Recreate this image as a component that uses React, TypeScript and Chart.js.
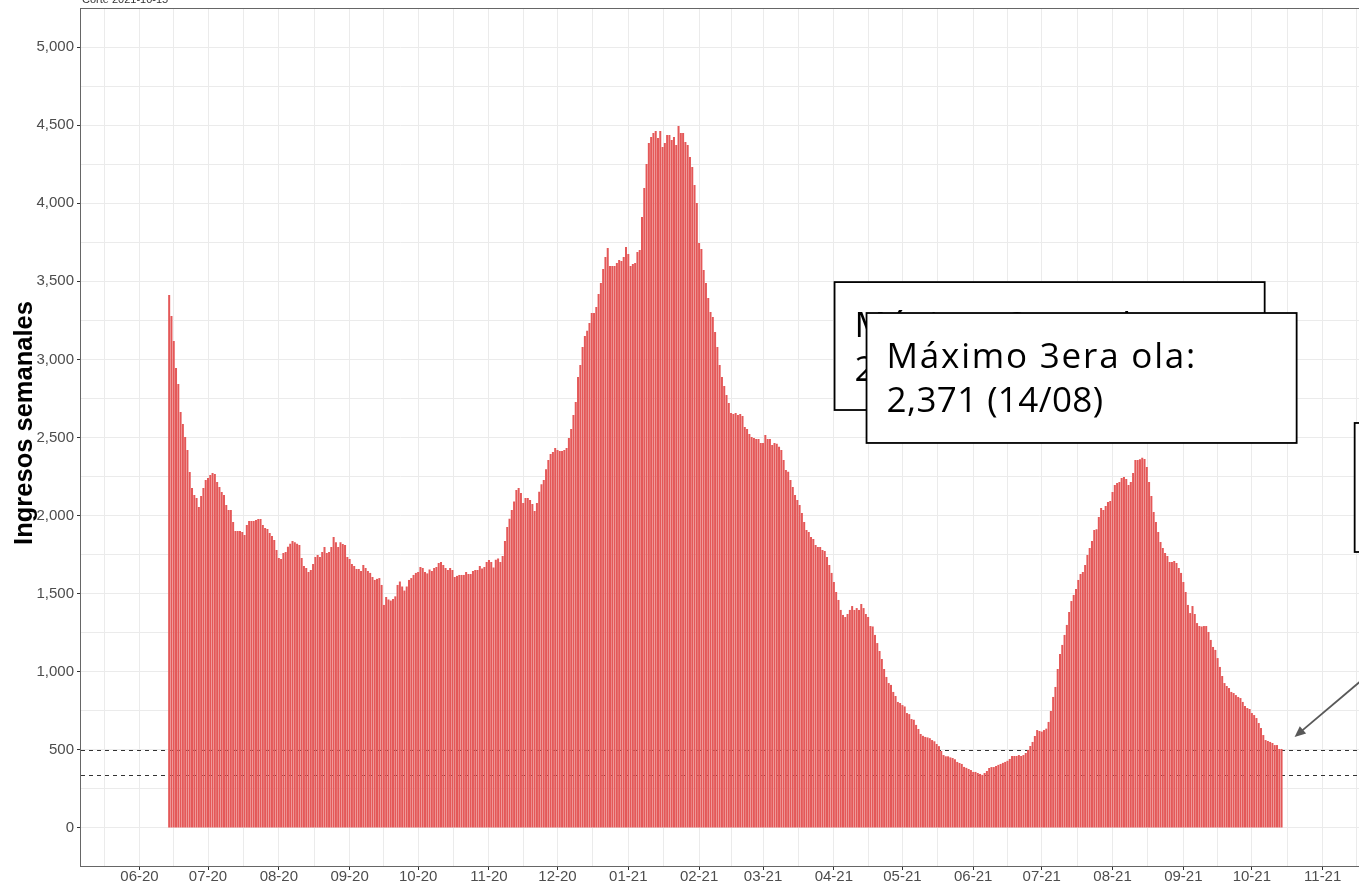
import React, { useEffect, useRef } from "react";
import { Chart, registerables } from "chart.js";

Chart.register(...registerables);

// ---------------- DATA ----------------
const FECHA_INICIO = "2020-06-14"; // first daily bar

// Ingresos semanales (rolling weekly admissions), one value per day
const ingresosJunSep2020 = [
  3412, 3278, 3118, 2945, 2843, 2663, 2586, 2503, 2420, 2279,
  2177, 2132, 2113, 2055, 2125, 2177, 2228, 2241, 2260, 2273,
  2266, 2215, 2183, 2151, 2132, 2068, 2036, 2036, 1959, 1901,
  1901, 1901, 1895, 1876, 1940, 1965, 1965, 1965, 1972, 1978,
  1978, 1940, 1920, 1914, 1888, 1870, 1844, 1780, 1729, 1722,
  1760, 1767, 1800, 1820, 1838, 1830, 1820, 1812, 1729, 1677,
  1665, 1639, 1652, 1690, 1735, 1747, 1735, 1767, 1799, 1760,
  1767, 1799, 1863, 1830, 1799, 1830, 1818, 1812, 1735, 1722,
  1690, 1677, 1658, 1658, 1645, 1684, 1665, 1645, 1633, 1607,
  1588, 1595,
];
const ingresosSepDic2020 = [
  1600, 1556, 1428, 1479, 1463, 1456, 1466, 1483, 1556, 1578,
  1546, 1520, 1546, 1588, 1600, 1620, 1633, 1639, 1671, 1665,
  1639, 1630, 1655, 1645, 1665, 1671, 1697, 1703, 1684, 1665,
  1652, 1665, 1652, 1607, 1614, 1620, 1620, 1620, 1639, 1626,
  1626, 1645, 1652, 1652, 1678, 1662, 1671, 1703, 1716, 1703,
  1668, 1718, 1725, 1703, 1741, 1837, 1927, 1980, 2036, 2090,
  2164, 2177, 2145, 2081, 2113, 2113, 2100, 2075, 2030, 2081,
  2152, 2200, 2228, 2296, 2356, 2394, 2407, 2433, 2420, 2413,
  2413, 2420, 2433, 2497, 2554, 2644, 2727,
];
const ingresosDicMar2021 = [
  2887, 2964, 3079, 3150, 3183, 3233, 3297, 3297, 3335, 3419,
  3489, 3579, 3656, 3713, 3598, 3598, 3598, 3617, 3636, 3630,
  3656, 3720, 3675, 3598, 3610, 3617, 3688, 3700, 3912, 4097,
  4251, 4385, 4424, 4450, 4462, 4417, 4462, 4360, 4385, 4436,
  4436, 4405, 4424, 4372, 4494, 4450, 4450, 4392, 4372, 4296,
  4232, 4117, 4001, 3745, 3707, 3572, 3489, 3393, 3303, 3271,
  3175, 3079, 2964, 2887, 2830, 2772, 2721, 2657, 2650, 2657,
  2644, 2650, 2637, 2567, 2554, 2522, 2503, 2497, 2490, 2490,
  2465, 2465, 2516, 2490, 2490, 2452,
];
const ingresosMarJun2021 = [
  2465, 2460, 2440, 2420, 2356, 2292, 2280, 2228, 2183, 2132,
  2100, 2068, 2017, 1959, 1908, 1895, 1863, 1850, 1812, 1799,
  1799, 1780, 1773, 1735, 1684, 1633, 1575, 1511, 1460, 1396,
  1364, 1351, 1370, 1396, 1421, 1396, 1408, 1396, 1434, 1408,
  1370, 1351, 1293, 1290, 1236, 1184, 1133, 1082, 1018, 967,
  928, 916, 871, 845, 807, 800, 787, 778, 736, 729,
  698, 693, 660, 634, 602, 590, 583, 580, 575, 563,
  555, 538, 524, 493, 467, 459, 459, 452, 448, 440,
  423, 416, 410, 391, 385, 378, 371, 359, 359, 352,
  346, 340, 352, 365, 384, 390, 390, 397, 404, 410,
  417, 423, 430, 442, 461, 461, 461, 467,
];
const ingresosJunOct2021 = [
  461, 467, 480, 499, 525, 551, 589, 627, 621, 617,
  627, 636, 679, 749, 839, 903, 1018, 1114, 1172, 1236,
  1300, 1383, 1453, 1492, 1530, 1588, 1626, 1639, 1684, 1748,
  1793, 1837, 1908, 1912, 1991, 2049, 2036, 2062, 2087, 2094,
  2151, 2196, 2209, 2215, 2241, 2247, 2234, 2196, 2215, 2273,
  2356, 2356, 2360, 2371, 2362, 2311, 2215, 2126, 2023, 1959,
  1895, 1831, 1793, 1761, 1741, 1703, 1703, 1709, 1697, 1665,
  1633, 1575, 1511, 1428, 1376, 1421, 1370, 1312, 1293, 1290,
  1293, 1293, 1255, 1204, 1159, 1140, 1088, 1031, 973, 928,
  909, 896, 871, 864, 851, 839, 832, 807, 781, 768,
  762, 736, 723, 704, 672, 640, 595, 563, 557, 551,
  544, 531, 531, 506, 506,
];

// x-axis month breaks and their labels
const mesesTicks = [
  "2020-06-01", "2020-07-01", "2020-08-01", "2020-09-01", "2020-10-01", "2020-11-01",
  "2020-12-01", "2021-01-01", "2021-02-01", "2021-03-01", "2021-04-01", "2021-05-01",
  "2021-06-01", "2021-07-01", "2021-08-01", "2021-09-01", "2021-10-01", "2021-11-01",
];
const mesesEtiquetas = [
  "06-20", "07-20", "08-20", "09-20", "10-20", "11-20",
  "12-20", "01-21", "02-21", "03-21", "04-21", "05-21",
  "06-21", "07-21", "08-21", "09-21", "10-21", "11-21",
];
const mesesBordes = ["2020-05-01", "2021-12-01"];

// y-axis breaks
const yTicksMayores = [0, 500, 1000, 1500, 2000, 2500, 3000, 3500, 4000, 4500, 5000];
const yTicksMenores = [250, 750, 1250, 1750, 2250, 2750, 3250, 3750, 4250, 4750];

// reference lines (current level and 3rd-wave trough)
const lineasReferencia = [500, 340];

const etiquetaMaximo = ["Máximo 3era ola:", "2,371 (14/08)"];
const tituloEjeY = "Ingresos semanales";
const textoCorte = "Corte 2021-10-15";

// ---------------- HELPERS ----------------
const toDay = (iso: string) => {
  const [y, m, d] = iso.split("-").map(Number);
  return Date.UTC(y, m - 1, d) / 86400000;
};

const DIA_BASE = toDay("2020-06-01");
const X_MIN = DIA_BASE - 25.6;
const X_MAX = DIA_BASE + 533.9;
const Y_MIN = -243.3;
const Y_MAX = 5249.7;

// annotation geometry in data units (day offset from 2020-06-01, value)
const caja1 = { x0: 304.3, x1: 492.6, y0: 3495, y1: 2676 };
const caja2 = { x0: 318.3, x1: 506.6, y0: 3297, y1: 2465 };
const caja3 = { x0: 532.0, x1: 620.0, y0: 2593, y1: 1767 };
const flecha = { x0: 542.9, y0: 1043, x1: 505.7, y1: 583 };

const ingresos = [
  ...ingresosJunSep2020,
  ...ingresosSepDic2020,
  ...ingresosDicMar2021,
  ...ingresosMarJun2021,
  ...ingresosJunOct2021,
];
const dia0 = toDay(FECHA_INICIO);
const puntos = ingresos.map((v, i) => ({ x: dia0 + i, y: v }));

const mayoresX = mesesTicks.map(toDay);
const etiquetaPorDia = new Map<number, string>();
mayoresX.forEach((d, i) => etiquetaPorDia.set(d, mesesEtiquetas[i]));
const todosMeses = [toDay(mesesBordes[0]), ...mayoresX, toDay(mesesBordes[1])];
const menoresX: number[] = [];
for (let i = 0; i < todosMeses.length - 1; i++) menoresX.push((todosMeses[i] + todosMeses[i + 1]) / 2);
const ticksX = [...mayoresX, ...menoresX]
  .filter((v) => v >= X_MIN && v <= X_MAX)
  .sort((a, b) => a - b);
const ticksY = [...yTicksMayores, ...yTicksMenores].sort((a, b) => a - b);
const mayoresYSet = new Set(yTicksMayores);

const FONT_EJES = '"Liberation Sans", Arial, Helvetica, sans-serif';
const FONT_ETIQUETA = '"Open Sans", "Noto Sans", sans-serif';

function dibujarCaja(ctx: CanvasRenderingContext2D, chart: any, c: any, texto: string[] | null) {
  const xs = chart.scales.x;
  const ys = chart.scales.y;
  const l = xs.getPixelForValue(DIA_BASE + c.x0);
  const r = xs.getPixelForValue(DIA_BASE + c.x1);
  const t = ys.getPixelForValue(c.y0);
  const b = ys.getPixelForValue(c.y1);
  ctx.save();
  ctx.fillStyle = "#ffffff";
  ctx.fillRect(l, t, r - l, b - t);
  ctx.strokeStyle = "#000000";
  ctx.lineWidth = 1.8;
  ctx.strokeRect(l, t, r - l, b - t);
  if (texto) {
    ctx.fillStyle = "#000000";
    ctx.font = `400 35px ${FONT_ETIQUETA}`;
    ctx.textAlign = "left";
    ctx.textBaseline = "alphabetic";
    (ctx as any).letterSpacing = "1.8px";
    ctx.fillText(texto[0], l + 20, t + 55);
    (ctx as any).letterSpacing = "0.4px";
    ctx.fillText(texto[1], l + 20, t + 99);
  }
  ctx.restore();
}

const decoracion = {
  id: "decoracion",
  beforeDatasetsDraw(chart: any) {
    const { ctx, chartArea, scales } = chart;
    ctx.save();
    ctx.strokeStyle = "#333333";
    ctx.lineWidth = 1;
    ctx.setLineDash([4, 4]);
    for (const v of lineasReferencia) {
      const py = Math.round(scales.y.getPixelForValue(v)) + 0.5;
      ctx.beginPath();
      ctx.moveTo(chartArea.left, py);
      ctx.lineTo(chartArea.right, py);
      ctx.stroke();
    }
    ctx.restore();
  },
  afterDatasetsDraw(chart: any) {
    const { ctx, chartArea, scales } = chart;
    // panel border
    ctx.save();
    ctx.strokeStyle = "#666666";
    ctx.lineWidth = 1;
    ctx.strokeRect(chartArea.left - 0.5, chartArea.top + 0.5, chartArea.right - chartArea.left + 10, chartArea.bottom - chartArea.top);
    ctx.restore();

    dibujarCaja(ctx, chart, caja1, etiquetaMaximo);
    dibujarCaja(ctx, chart, caja2, etiquetaMaximo);
    dibujarCaja(ctx, chart, caja3, null);

    // arrow
    const x0 = scales.x.getPixelForValue(DIA_BASE + flecha.x0);
    const y0 = scales.y.getPixelForValue(flecha.y0);
    const x1 = scales.x.getPixelForValue(DIA_BASE + flecha.x1);
    const y1 = scales.y.getPixelForValue(flecha.y1);
    const ang = Math.atan2(y1 - y0, x1 - x0);
    const len = 12;
    const half = (24 * Math.PI) / 180;
    ctx.save();
    ctx.strokeStyle = "#595959";
    ctx.fillStyle = "#595959";
    ctx.lineWidth = 1.8;
    ctx.beginPath();
    ctx.moveTo(x0, y0);
    ctx.lineTo(x1 - Math.cos(ang) * 4, y1 - Math.sin(ang) * 4);
    ctx.stroke();
    ctx.beginPath();
    ctx.moveTo(x1, y1);
    ctx.lineTo(x1 - len * Math.cos(ang - half), y1 - len * Math.sin(ang - half));
    ctx.lineTo(x1 - len * Math.cos(ang + half), y1 - len * Math.sin(ang + half));
    ctx.closePath();
    ctx.fill();
    ctx.restore();
  },
  afterDraw(chart: any) {
    const { ctx } = chart;
    ctx.save();
    // y-axis title
    ctx.translate(32, 423);
    ctx.rotate(-Math.PI / 2);
    ctx.fillStyle = "#000000";
    ctx.font = `bold 25.5px ${FONT_EJES}`;
    ctx.textAlign = "center";
    ctx.textBaseline = "alphabetic";
    ctx.fillText(tituloEjeY, 0, 0);
    ctx.restore();
    // clipped caption at the very top
    ctx.save();
    ctx.fillStyle = "#333333";
    ctx.font = `11px ${FONT_EJES}`;
    ctx.textAlign = "left";
    ctx.textBaseline = "alphabetic";
    ctx.fillText(textoCorte, 82, 3);
    ctx.restore();
  },
};

export default function App() {
  const ref = useRef<HTMLCanvasElement>(null);

  useEffect(() => {
    if (!ref.current) return;
    const chart = new Chart(ref.current, {
      type: "bar",
      data: {
        datasets: [
          {
            data: puntos as any,
            backgroundColor: "rgb(228, 88, 88)",
            borderWidth: 0,
            barPercentage: 0.88,
            categoryPercentage: 1,
          },
        ],
      },
      options: {
        animation: false,
        responsive: false,
        maintainAspectRatio: false,
        layout: { padding: { top: 8, left: 0, right: 0, bottom: 0 } },
        plugins: { legend: { display: false }, tooltip: { enabled: false }, title: { display: false } },
        scales: {
          x: {
            type: "linear",
            min: X_MIN,
            max: X_MAX,
            offset: false,
            border: { display: false },
            grid: {
              color: "#ebebeb",
              lineWidth: 1,
              offset: false,
              drawTicks: true,
              tickLength: 4,
              tickColor: (c: any) => (etiquetaPorDia.has(c.tick?.value) ? "#333333" : "rgba(0,0,0,0)"),
            },
            ticks: {
              autoSkip: false,
              maxRotation: 0,
              minRotation: 0,
              padding: -2,
              color: "#4d4d4d",
              font: { family: FONT_EJES, size: 15 },
              callback: (v: any) => etiquetaPorDia.get(Number(v)) ?? "",
            },
            afterBuildTicks: (scale: any) => {
              scale.ticks = ticksX.map((v) => ({ value: v }));
            },
            afterFit: (scale: any) => {
              scale.height = 19;
              scale.paddingLeft = 0;
              scale.paddingRight = 0;
            },
          },
          y: {
            type: "linear",
            min: Y_MIN,
            max: Y_MAX,
            border: { display: false },
            grid: {
              color: "#ebebeb",
              lineWidth: 1,
              drawTicks: true,
              tickLength: 4,
              tickColor: (c: any) => (mayoresYSet.has(c.tick?.value) ? "#333333" : "rgba(0,0,0,0)"),
            },
            ticks: {
              autoSkip: false,
              padding: 3,
              color: "#4d4d4d",
              font: { family: FONT_EJES, size: 15 },
              callback: (v: any) => (mayoresYSet.has(Number(v)) ? Number(v).toLocaleString("en-US") : ""),
            },
            afterBuildTicks: (scale: any) => {
              scale.ticks = ticksY.map((v) => ({ value: v }));
            },
            afterFit: (scale: any) => {
              scale.width = 81;
              scale.paddingTop = 0;
              scale.paddingBottom = 0;
            },
          },
        },
      },
      plugins: [decoracion],
    });
    return () => chart.destroy();
  }, []);

  return (
    <div style={{ position: "fixed", left: 0, top: 0, width: 1359, height: 885, overflow: "hidden", background: "#ffffff" }}>
      <canvas ref={ref} width={1359} height={885} style={{ display: "block", width: 1359, height: 885 }} />
    </div>
  );
}
